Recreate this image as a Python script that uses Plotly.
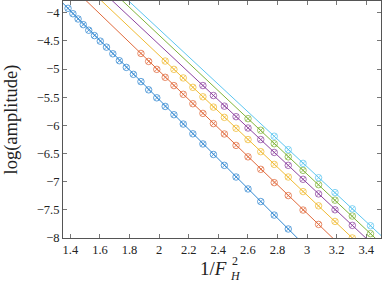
import plotly.graph_objects as go

# ---- data ----
x_blue = [1.384, 1.417, 1.452, 1.487, 1.524, 1.5625, 1.602, 1.644, 1.687, 1.731, 1.778, 1.826,
          1.877, 1.929, 1.984, 2.041, 2.100, 2.163, 2.228, 2.296, 2.367, 2.441, 2.520, 2.601,
          2.687, 2.778, 2.873]
y_blue = [-3.922, -4.018, -4.111, -4.212, -4.311, -4.406, -4.505, -4.611, -4.729, -4.852, -4.971,
          -5.094, -5.223, -5.369, -5.511, -5.664, -5.811, -5.977, -6.150, -6.330, -6.517, -6.710,
          -6.917, -7.129, -7.353, -7.593, -7.840]

x_orange = [1.877, 1.929, 1.984, 2.041, 2.100, 2.163, 2.228, 2.296, 2.367, 2.441, 2.520, 2.601,
            2.687, 2.778, 2.873, 2.973, 3.078]
y_orange = [-4.723, -4.865, -5.006, -5.147, -5.294, -5.449, -5.616, -5.788, -5.969, -6.153,
            -6.356, -6.559, -6.781, -7.017, -7.247, -7.504, -7.759]

x_yellow = [2.041, 2.100, 2.163, 2.228, 2.296, 2.367, 2.441, 2.520, 2.601, 2.687, 2.778, 2.873,
            2.973, 3.078, 3.189, 3.306]
y_yellow = [-4.858, -5.006, -5.158, -5.325, -5.493, -5.676, -5.858, -6.052, -6.252, -6.467,
            -6.693, -6.917, -7.176, -7.429, -7.706, -7.999]

x_purple = [2.296, 2.367, 2.441, 2.520, 2.601, 2.687, 2.778, 2.873, 2.973, 3.078, 3.189, 3.306]
y_purple = [-5.293, -5.470, -5.659, -5.846, -6.047, -6.252, -6.481, -6.710, -6.958, -7.217,
            -7.499, -7.776]

x_green = [2.601, 2.687, 2.778, 2.873, 2.973, 3.078, 3.189, 3.306, 3.429]
y_green = [-5.881, -6.087, -6.326, -6.559, -6.799, -7.053, -7.328, -7.610, -7.923]

x_lblue = [2.778, 2.873, 2.973, 3.078, 3.189, 3.306, 3.429]
y_lblue = [-6.193, -6.432, -6.675, -6.930, -7.194, -7.482, -7.782]

# fitted straight lines: y at fit_x endpoints
fit_x = [1.3, 3.6]
fit_blue = [-3.701, -9.752]
fit_orange = [-3.264, -9.079]
fit_yellow = [-3.018, -8.729]
fit_purple = [-2.845, -8.498]
fit_green = [-2.673, -8.345]
fit_lblue = [-2.585, -8.200]

x_ticks = [1.4, 1.6, 1.8, 2.0, 2.2, 2.4, 2.6, 2.8, 3.0, 3.2, 3.4]
x_ticklabels = ["1.4", "1.6", "1.8", "2", "2.2", "2.4", "2.6", "2.8", "3", "3.2", "3.4"]
y_ticks = [-8, -7.5, -7, -6.5, -6, -5.5, -5, -4.5, -4]
y_ticklabels = ["\u22128", "\u22127.5", "\u22127", "\u22126.5", "\u22126", "\u22125.5", "\u22125", "\u22124.5", "\u22124"]

x_title_main = "1/<i>F</i>"
x_title_sup = "2"
x_title_sub = "<i>H</i>"
y_title = "log(amplitude)"

colors = ["#2f86d0", "#e06a3c", "#f0bb33", "#8d44a0", "#80b43a", "#5cc6f0"]

series = [
    (x_blue, y_blue, fit_blue),
    (x_orange, y_orange, fit_orange),
    (x_yellow, y_yellow, fit_yellow),
    (x_purple, y_purple, fit_purple),
    (x_green, y_green, fit_green),
    (x_lblue, y_lblue, fit_lblue),
]

fig = go.Figure()
for (xs, ys, fy), c in zip(series, colors):
    fig.add_trace(go.Scatter(x=fit_x, y=fy, mode="lines",
                             line=dict(color=c, width=1), showlegend=False,
                             hoverinfo="skip"))
    fig.add_trace(go.Scatter(x=xs, y=ys, mode="markers",
                             marker=dict(symbol="circle-x-open", size=6.5,
                                         color=c, opacity=0.75,
                                         line=dict(width=1, color=c)),
                             showlegend=False))

serif = "Liberation Serif, DejaVu Serif, serif"
txt = "#222222"
axis_common = dict(showgrid=False, zeroline=False, showline=True, mirror="ticks",
                   linecolor="#555555", linewidth=1, ticks="inside", ticklen=4,
                   tickcolor="#777777", automargin=False,
                   tickfont=dict(family=serif, size=12.5, color=txt))

W, H = 382, 286
ML, MR, MT, MB = 63, 1, 0.5, 47.5
PW, PH = W - ML - MR, H - MT - MB


def px(xp):
    return (xp - ML) / PW


def py(yp):
    return (H - MB - yp) / PH


fig.update_layout(
    width=W, height=H,
    margin=dict(l=ML, r=MR, t=MT, b=MB),
    paper_bgcolor="white", plot_bgcolor="white",
    xaxis=dict(range=[1.35, 3.5], tickvals=x_ticks, ticktext=x_ticklabels, **axis_common),
    yaxis=dict(range=[-8, -3.792], tickvals=y_ticks, ticktext=y_ticklabels,
               title=dict(text=y_title, standoff=14,
                          font=dict(family=serif, size=18.5, color=txt)),
               **axis_common),
    annotations=[
        dict(text=x_title_main, xref="paper", yref="paper", x=px(229), y=py(269),
             xanchor="right", yanchor="middle", showarrow=False,
             font=dict(family=serif, size=19, color=txt)),
        dict(text=x_title_sup, xref="paper", yref="paper", x=px(230), y=py(262),
             xanchor="left", yanchor="middle", showarrow=False,
             font=dict(family=serif, size=12, color=txt)),
        dict(text=x_title_sub, xref="paper", yref="paper", x=px(228), y=py(277),
             xanchor="left", yanchor="middle", showarrow=False,
             font=dict(family=serif, size=12, color=txt)),
    ],
)

fig.write_html("out.html", config={"displayModeBar": False},
               post_script="document.body.style.margin='0';document.body.style.overflow='hidden';")
